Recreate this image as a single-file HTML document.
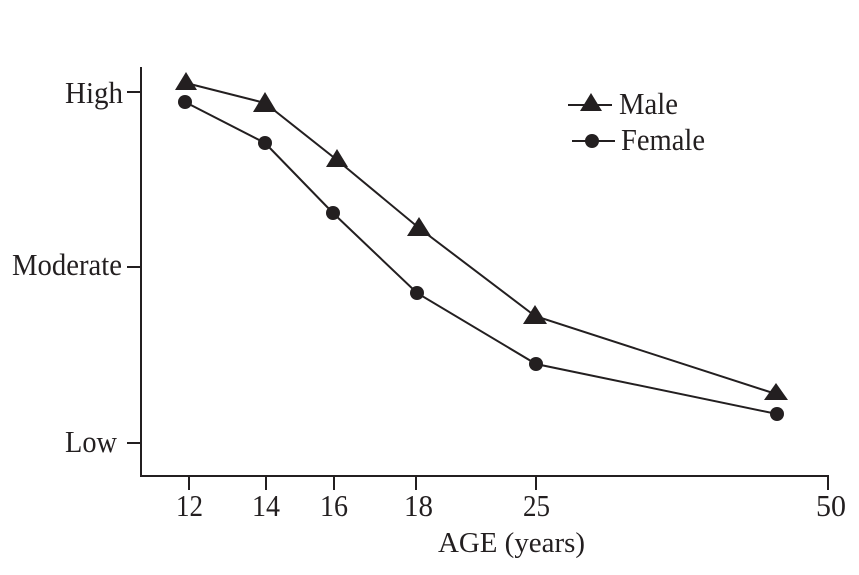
<!DOCTYPE html>
<html>
<head>
<meta charset="utf-8">
<style>
  html, body { margin: 0; padding: 0; background: #fff; }
  svg { display: block; }
  text { font-family: "Liberation Serif", serif; fill: #231f20; }
</style>
</head>
<body>
<svg width="859" height="575" viewBox="0 0 859 575" xmlns="http://www.w3.org/2000/svg">
  <rect width="859" height="575" fill="#fff"/>
  <!-- axes -->
  <g stroke="#231f20" stroke-width="2" fill="none">
    <line x1="141" y1="67" x2="141" y2="477"/>
    <line x1="140" y1="476" x2="829" y2="476"/>
    <!-- y ticks -->
    <line x1="127" y1="92" x2="141" y2="92"/>
    <line x1="127" y1="267" x2="141" y2="267"/>
    <line x1="127" y1="443" x2="141" y2="443"/>
    <!-- x ticks -->
    <line x1="189" y1="476" x2="189" y2="490"/>
    <line x1="266" y1="476" x2="266" y2="490"/>
    <line x1="334" y1="476" x2="334" y2="490"/>
    <line x1="416" y1="476" x2="416" y2="490"/>
    <line x1="536" y1="476" x2="536" y2="490"/>
    <line x1="828" y1="476" x2="828" y2="490"/>
  </g>

  <!-- y labels -->
  <text x="65" y="103" font-size="31" textLength="58" lengthAdjust="spacingAndGlyphs">High</text>
  <text x="12" y="275" font-size="31" textLength="110" lengthAdjust="spacingAndGlyphs">Moderate</text>
  <text x="65" y="452" font-size="31" textLength="52" lengthAdjust="spacingAndGlyphs">Low</text>

  <!-- x labels -->
  <text x="176" y="516" font-size="31" textLength="27" lengthAdjust="spacingAndGlyphs">12</text>
  <text x="252" y="516" font-size="31" textLength="28" lengthAdjust="spacingAndGlyphs">14</text>
  <text x="320" y="516" font-size="31" textLength="28" lengthAdjust="spacingAndGlyphs">16</text>
  <text x="404" y="516" font-size="31" textLength="29" lengthAdjust="spacingAndGlyphs">18</text>
  <text x="523" y="516" font-size="31" textLength="27" lengthAdjust="spacingAndGlyphs">25</text>
  <text x="816" y="516" font-size="31" textLength="30" lengthAdjust="spacingAndGlyphs">50</text>
  <text x="438" y="552" font-size="28" textLength="147" lengthAdjust="spacingAndGlyphs">AGE (years)</text>

  <!-- Male series -->
  <polyline points="186,83 265,103 337,160 419,228 535,316 776,394" fill="none" stroke="#231f20" stroke-width="2"/>
  <g fill="#231f20">
    <polygon points="186,72 175,90 197,90"/>
    <polygon points="265,92 253,112 277,112"/>
    <polygon points="337,149 326,167 348,167"/>
    <polygon points="419,217 407,236 431,236"/>
    <polygon points="535,305 523,324 547,324"/>
    <polygon points="776,383 764,400 788,400"/>
  </g>

  <!-- Female series -->
  <polyline points="185,102 265,143 333,213 417,293 536,364 777,414" fill="none" stroke="#231f20" stroke-width="2"/>
  <g fill="#231f20">
    <circle cx="185" cy="102" r="7"/>
    <circle cx="265" cy="143" r="7"/>
    <circle cx="333" cy="213" r="7"/>
    <circle cx="417" cy="293" r="7"/>
    <circle cx="536" cy="364" r="7"/>
    <circle cx="777" cy="414" r="7"/>
  </g>

  <!-- Legend -->
  <line x1="568" y1="105" x2="612" y2="105" stroke="#231f20" stroke-width="2"/>
  <polygon points="591,93 580,111 602,111" fill="#231f20"/>
  <text x="619" y="114" font-size="31" textLength="59" lengthAdjust="spacingAndGlyphs">Male</text>
  <line x1="572" y1="141" x2="615" y2="141" stroke="#231f20" stroke-width="2"/>
  <circle cx="592" cy="141" r="7" fill="#231f20"/>
  <text x="621" y="150" font-size="31" textLength="84" lengthAdjust="spacingAndGlyphs">Female</text>
</svg>
</body>
</html>
